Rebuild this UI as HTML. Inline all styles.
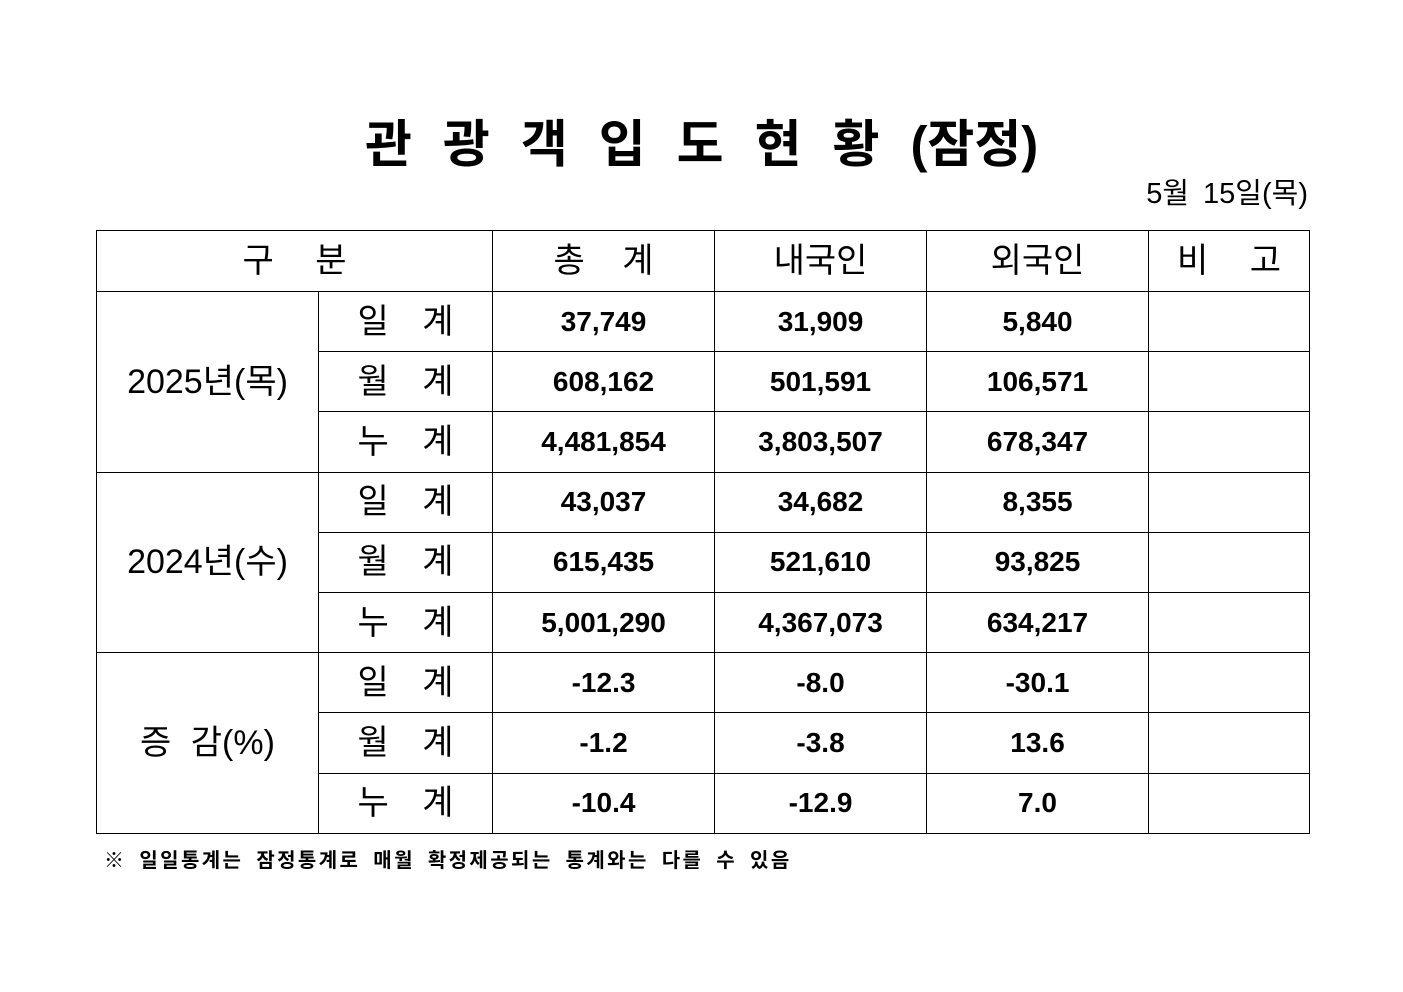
<!DOCTYPE html>
<html><head><meta charset="utf-8"><style>
body{margin:0;width:1403px;height:992px;background:#fff;position:relative;font-family:"Liberation Sans","Noto Sans CJK KR","NanumGothic",sans-serif;color:#000;overflow:hidden}
.title{position:absolute;left:365px;top:112px;font-size:51px;font-weight:bold;line-height:66px;white-space:nowrap}
.title .sp{letter-spacing:31px}
.date{position:absolute;right:95px;top:176px;font-size:29px;line-height:36px;white-space:nowrap;word-spacing:6px}
table{position:absolute;left:96px;top:230px;border-collapse:collapse;table-layout:fixed;width:1213px}
td{border:1px solid #000;text-align:center;padding:0;height:59.2px;line-height:1;white-space:nowrap;overflow:hidden}
tr.hr td{height:60px}
.h{font-size:34px}
.lab{font-size:34px;letter-spacing:12px;padding-left:12px}
.num{font-size:28px;font-weight:bold}
.yr{font-size:34px}
.note{position:absolute;left:104px;top:844px;font-size:20px;font-weight:bold;letter-spacing:2.4px;word-spacing:5px;white-space:nowrap}
</style></head><body>
<div class="title"><span class="sp">관광객입도현황</span>(잠정)</div>
<div class="date">5월 15일(목)</div>
<table>
<colgroup><col style="width:222px"><col style="width:174px"><col style="width:222px"><col style="width:212px"><col style="width:222px"><col style="width:161px"></colgroup>
<tr class="hr"><td class="h" colspan="2" style="letter-spacing:16px;padding-left:16px">구 분</td><td class="h" style="letter-spacing:14px;padding-left:14px">총 계</td><td class="h">내국인</td><td class="h">외국인</td><td class="h" style="letter-spacing:16px;padding-left:16px">비 고</td></tr>
<tr><td class="yr" rowspan="3">2025년(목)</td><td class="lab">일 계</td><td class="num">37,749</td><td class="num">31,909</td><td class="num">5,840</td><td></td></tr>
<tr><td class="lab">월 계</td><td class="num">608,162</td><td class="num">501,591</td><td class="num">106,571</td><td></td></tr>
<tr><td class="lab">누 계</td><td class="num">4,481,854</td><td class="num">3,803,507</td><td class="num">678,347</td><td></td></tr>
<tr><td class="yr" rowspan="3">2024년(수)</td><td class="lab">일 계</td><td class="num">43,037</td><td class="num">34,682</td><td class="num">8,355</td><td></td></tr>
<tr><td class="lab">월 계</td><td class="num">615,435</td><td class="num">521,610</td><td class="num">93,825</td><td></td></tr>
<tr><td class="lab">누 계</td><td class="num">5,001,290</td><td class="num">4,367,073</td><td class="num">634,217</td><td></td></tr>
<tr><td class="yr" rowspan="3" style="word-spacing:10px">증 감(%)</td><td class="lab">일 계</td><td class="num">-12.3</td><td class="num">-8.0</td><td class="num">-30.1</td><td></td></tr>
<tr><td class="lab">월 계</td><td class="num">-1.2</td><td class="num">-3.8</td><td class="num">13.6</td><td></td></tr>
<tr><td class="lab">누 계</td><td class="num">-10.4</td><td class="num">-12.9</td><td class="num">7.0</td><td></td></tr>
</table>
<div class="note">※ 일일통계는 잠정통계로 매월 확정제공되는 통계와는 다를 수 있음</div>
</body></html>
